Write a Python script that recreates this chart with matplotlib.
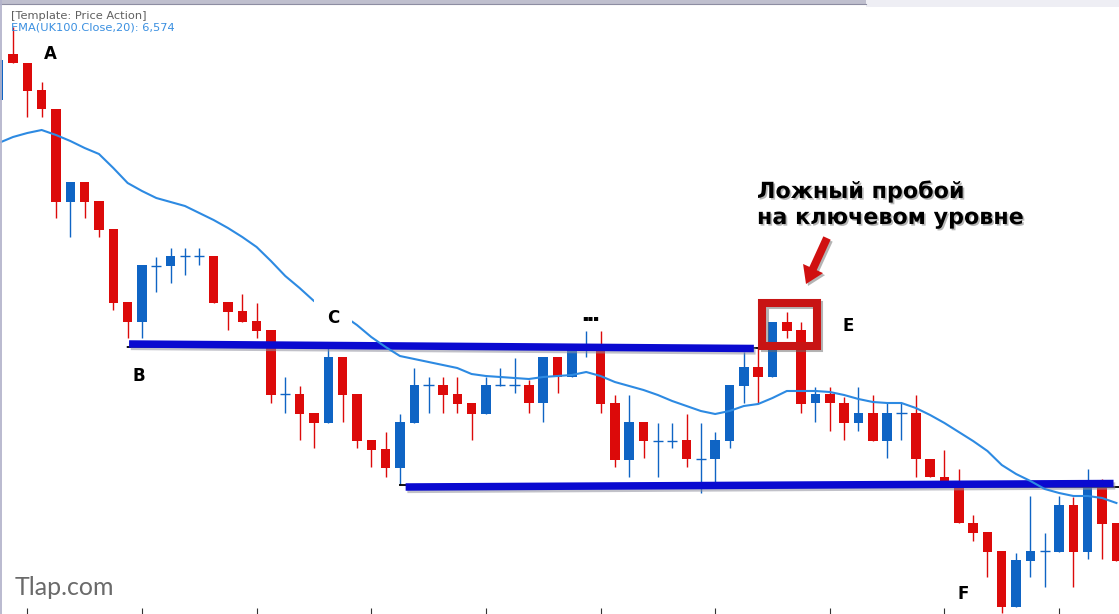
import numpy as np
import matplotlib.pyplot as plt
import matplotlib.patheffects as pe
from matplotlib.patches import Rectangle, FancyArrow

# --- data (price points), bar -1 is cut by the left edge ---
opens = [6977, 7023, 7014, 6987, 6968, 6875, 6895, 6876, 6848, 6775,
         6755, 6811, 6811, 6821, 6821, 6821, 6775, 6766, 6756, 6747,
         6683, 6683, 6664, 6654, 6720, 6683, 6637, 6628, 6609, 6654,
         6692, 6692, 6683, 6674, 6663, 6692, 6692, 6692, 6674, 6720,
         6700, 6729, 6732, 6674, 6617, 6655, 6636, 6636, 6637, 6618,
         6618, 6636, 6691, 6710, 6700, 6755, 6747, 6674, 6683, 6674,
         6654, 6664, 6636, 6664, 6664, 6618, 6600, 6592, 6554, 6545,
         6526, 6470, 6516, 6526, 6525, 6572, 6525, 6590, 6554]
highs = [7024, 7050, 7014, 6995, 6968, 6895, 6895, 6876, 6848, 6775,
         6812, 6820, 6829, 6829, 6829, 6821, 6775, 6783, 6774, 6747,
         6700, 6691, 6664, 6729, 6720, 6683, 6637, 6645, 6663, 6709,
         6700, 6700, 6700, 6674, 6700, 6709, 6719, 6697, 6720, 6720,
         6731, 6746, 6746, 6682, 6682, 6655, 6654, 6654, 6663, 6654,
         6645, 6692, 6725, 6729, 6755, 6765, 6755, 6690, 6690, 6680,
         6690, 6682, 6674, 6674, 6682, 6618, 6627, 6608, 6562, 6545,
         6526, 6524, 6581, 6544, 6581, 6580, 6608, 6598, 6554]
lows = [6968, 7014, 6960, 6960, 6859, 6840, 6859, 6840, 6767, 6739,
        6739, 6785, 6794, 6802, 6812, 6774, 6747, 6755, 6739, 6674,
        6664, 6637, 6629, 6654, 6655, 6629, 6610, 6600, 6592, 6654,
        6664, 6664, 6664, 6637, 6663, 6691, 6684, 6664, 6655, 6684,
        6700, 6720, 6664, 6610, 6600, 6619, 6600, 6629, 6610, 6584,
        6595, 6629, 6674, 6674, 6700, 6739, 6664, 6655, 6646, 6637,
        6646, 6636, 6619, 6637, 6600, 6600, 6595, 6554, 6536, 6500,
        6464, 6470, 6500, 6490, 6525, 6490, 6518, 6518, 6516]
closes = [7017, 7014, 6986, 6968, 6875, 6895, 6875, 6847, 6774, 6755,
          6812, 6811, 6821, 6821, 6821, 6774, 6765, 6755, 6746, 6682,
          6683, 6663, 6654, 6720, 6682, 6636, 6627, 6609, 6655, 6692,
          6692, 6682, 6673, 6663, 6692, 6692, 6692, 6674, 6720, 6700,
          6731, 6729, 6673, 6617, 6655, 6636, 6636, 6636, 6618, 6618,
          6637, 6692, 6710, 6700, 6755, 6746, 6673, 6683, 6674, 6654,
          6664, 6636, 6664, 6664, 6618, 6600, 6595, 6554, 6544, 6525,
          6470, 6517, 6526, 6526, 6572, 6525, 6590, 6553, 6516]
ema20 = [6934, 6940, 6944, 6947, 6942, 6936, 6929, 6923, 6909, 6894,
         6886, 6879, 6875, 6871, 6864, 6857, 6849, 6840, 6830, 6816,
         6801, 6789, 6776, 6769, 6762, 6752, 6740, 6730, 6721, 6718,
         6715, 6712, 6709, 6703, 6701, 6700, 6699, 6698, 6700, 6701,
         6702, 6705, 6701, 6695, 6691, 6687, 6682, 6676, 6671, 6666,
         6663, 6666, 6671, 6673, 6679, 6686, 6686, 6686, 6685, 6682,
         6678, 6675, 6674, 6674, 6669, 6662, 6654, 6645, 6636, 6626,
         6612, 6603, 6596, 6588, 6584, 6581, 6581, 6579, 6574]
bars = np.arange(-1, len(opens) - 1)

# hand-drawn levels: (start bar, end bar, price at start, price at end)
band_x0 = [8.1, 27.4]
band_x1 = [51.7, 76.8]
band_p0 = [6733, 6590]
band_p1 = [6728.5, 6593.5]
thin_x0 = [8.0, 27.0]
thin_x1 = [52.6, 77.2]
thin_p0 = [6730, 6592]
thin_p1 = [6729, 6590]

RED = '#dc0a0a'
BLUE = '#0f64c4'

fig = plt.figure(figsize=(11.19, 6.14), dpi=100)
ax = fig.add_axes([0, 0, 1, 1])
ax.set_xlim(-13 / 14.33, (1119 - 13) / 14.33)
ax.set_ylim(7077 - 614, 7077)
for s in ax.spines.values():
    s.set_visible(False)
ax.set_yticks([])
ax.set_xticks(range(1, 78, 8))
ax.tick_params(axis='x', direction='in', length=4, width=0.8, color='#333333',
               labelbottom=False, pad=0)

# candles
for x, o, h, l, c in zip(bars, opens, highs, lows, closes):
    col = BLUE if c >= o else RED
    ax.vlines(x, l, h, color=col, lw=1.0, zorder=2)
    if abs(c - o) >= 1:
        ax.bar(x, abs(c - o), bottom=min(o, c), width=0.66, color=col, lw=0, zorder=2)
    else:
        ax.hlines(c, x - 0.36, x + 0.36, color=col, lw=1.0, zorder=2)

# levels
for x0, x1, p0, p1 in zip(thin_x0, thin_x1, thin_p0, thin_p1):
    ax.plot([x0, x1], [p0, p1], color='black', lw=1.3, zorder=3)
for x0, x1, p0, p1 in zip(band_x0, band_x1, band_p0, band_p1):
    ax.plot([x0 + 0.12, x1 + 0.12], [p0 - 2.5, p1 - 2.5], color='#8e8e9c', lw=5.2,
            alpha=0.55, solid_capstyle='butt', zorder=4)
    ax.plot([x0, x1], [p0, p1], color='#0a0ad0', lw=5.4, solid_capstyle='butt', zorder=5)

ax.plot(bars, ema20, color='#2d8ae2', lw=1.5, zorder=6)

# overlay in pixel coordinates for the annotations
ov = fig.add_axes([0, 0, 1, 1], zorder=10)
ov.set_xlim(0, 1119)
ov.set_ylim(614, 0)
ov.axis('off')
ov.patch.set_alpha(0)

# terminal chrome
ov.add_patch(Rectangle((0, 0), 866, 4, color='#bfbfce', lw=0))
ov.plot([0, 866], [3.6, 3.6], color='#8d8da2', lw=0.8)
ov.add_patch(Rectangle((866, 0), 253, 7, color='#eeeef4', lw=0))
ov.plot([0.6, 0.6], [0, 614], color='#b4b4cc', lw=1.3)

ov.text(11, 19, '[Template: Price Action]', fontsize=8.2, color='#606060', va='baseline')
ov.text(11, 31, 'EMA(UK100.Close,20): 6,574', fontsize=8.2, color='#3a8fe0', va='baseline')
ov.text(15, 595, 'Tlap.com', fontsize=18, color='#6a6a6a', family='Lato', va='baseline')

lab = dict(fontsize=12, fontweight='bold', ha='center', va='center', color='black')
ov.text(50, 54, 'A', **lab)
ov.text(139, 376, 'B', **lab)
ov.text(333, 318, 'C', bbox=dict(boxstyle='square,pad=0.75', fc='white', ec='none'), **lab)
ov.text(848, 326, 'E', **lab)
ov.text(963, 594, 'F', **lab)
ov.text(591, 318, '▪▪▪', fontsize=6, ha='center', va='center', color='black')

# false breakout highlight
ov.add_patch(Rectangle((764.5, 305), 54.5, 43, fill=False, ec='#6a6a6a', lw=5.8, alpha=0.5))
ov.add_patch(Rectangle((762, 303), 54.5, 43, fill=False, ec='#c81414', lw=5.8, joinstyle='miter'))
ov.add_patch(FancyArrow(829, 240, -21, 46, width=8, head_width=22, head_length=17,
                        length_includes_head=True, color='#6a6a6a', alpha=0.5, lw=0))
ov.add_patch(FancyArrow(827, 238, -21, 46, width=8, head_width=22, head_length=17,
                        length_includes_head=True, color='#d01010', lw=0))

shadow = [pe.withSimplePatchShadow(offset=(1.2, -1.2), shadow_rgbFace='#888888', alpha=0.6)]
ov.text(757, 198, 'Ложный пробой', fontsize=16, fontweight='bold', va='baseline',
        path_effects=shadow)
ov.text(757, 224, 'на ключевом уровне', fontsize=16, fontweight='bold', va='baseline',
        path_effects=shadow)

fig.savefig('out.png', dpi=100)
